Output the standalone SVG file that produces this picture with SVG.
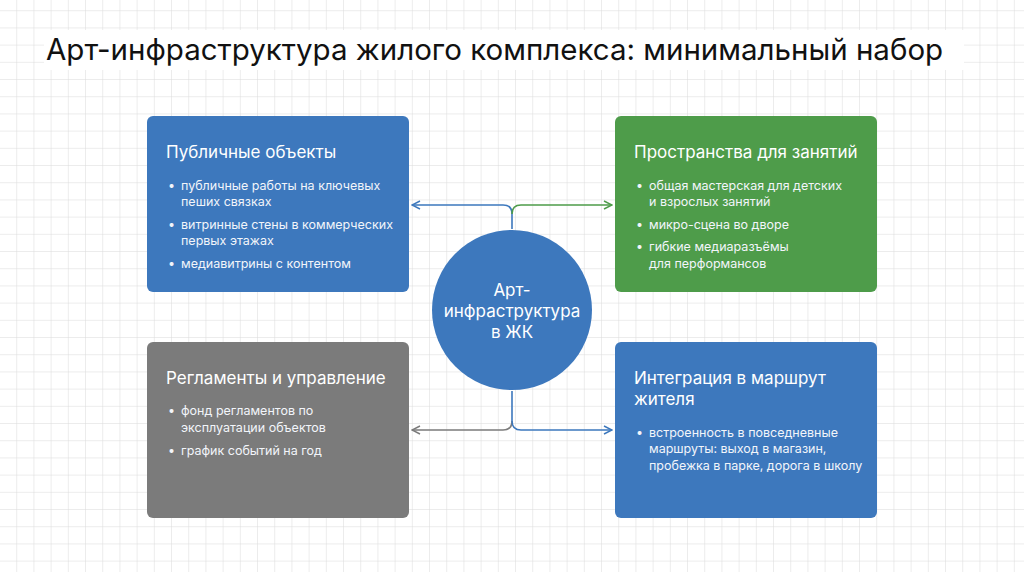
<svg xmlns="http://www.w3.org/2000/svg" width="1024" height="572" viewBox="0 0 1024 572">
<defs>
<pattern id="grid" width="17.2" height="17.2" patternUnits="userSpaceOnUse" x="0" y="-6">
<path d="M17.2 0V17.2H0" fill="none" stroke="#dadada" stroke-width="1"/>
</pattern>
<marker id="ab" viewBox="0 0 10 10" refX="9" refY="5" markerWidth="10" markerHeight="10" markerUnits="userSpaceOnUse" orient="auto"><path d="M1 1L9 5L1 9" fill="none" stroke="#3d78bd" stroke-width="1.5"/></marker>
<marker id="ag" viewBox="0 0 10 10" refX="9" refY="5" markerWidth="10" markerHeight="10" markerUnits="userSpaceOnUse" orient="auto"><path d="M1 1L9 5L1 9" fill="none" stroke="#4e9c4a" stroke-width="1.5"/></marker>
<marker id="ay" viewBox="0 0 10 10" refX="9" refY="5" markerWidth="10" markerHeight="10" markerUnits="userSpaceOnUse" orient="auto"><path d="M1 1L9 5L1 9" fill="none" stroke="#7b7b7b" stroke-width="1.5"/></marker>
</defs>
<style>
text{font-family:"Inter","Liberation Sans",sans-serif;fill:#fff}
.h{font-size:17px}
.b{font-size:12.5px;fill:#f2f5fa}
.c{stroke-width:1.6;fill:none}
</style>
<rect width="1024" height="572" fill="#fff"/>
<rect width="1024" height="572" fill="url(#grid)"/>
<rect x="44" y="30" width="920" height="40" fill="#fff"/>
<text x="46" y="60" style="font-size:29.5px;fill:#111">Арт-инфраструктура жилого комплекса: минимальный набор</text>
<g id="connectors">
<path class="c" stroke="#3d78bd" d="M512 229V214Q512 205 503 205H412" marker-end="url(#ab)"/>
<path class="c" stroke="#4e9c4a" d="M512 214Q512 205 521 205H612" marker-end="url(#ag)"/>
<path class="c" stroke="#7b7b7b" d="M512 421Q512 430 503 430H412" marker-end="url(#ay)"/>
<path class="c" stroke="#3d78bd" d="M512 391V421Q512 430 521 430H612" marker-end="url(#ab)"/>
</g>
<g id="center">
<circle cx="512" cy="310" r="80" fill="#3d78bd"/>
<text x="512" y="296" text-anchor="middle" style="font-size:17px">Арт-</text>
<text x="512" y="317" text-anchor="middle" style="font-size:17px">инфраструктура</text>
<text x="512" y="338" text-anchor="middle" style="font-size:17px">в ЖК</text>
</g>
<g id="public">
<rect x="147" y="116" width="262" height="176" rx="6" fill="#3d78bd"/>
<text class="h" x="166" y="158">Публичные объекты</text>
<text class="b" x="168" y="190">•</text><text class="b" x="181" y="190">публичные работы на ключевых</text>
<text class="b" x="181" y="206">пеших связках</text>
<text class="b" x="168" y="229">•</text><text class="b" x="181" y="229">витринные стены в коммерческих</text>
<text class="b" x="181" y="245">первых этажах</text>
<text class="b" x="168" y="268">•</text><text class="b" x="181" y="268">медиавитрины с контентом</text>
</g>
<g id="spaces">
<rect x="615" y="116" width="262" height="176" rx="6" fill="#4e9c4a"/>
<text class="h" x="634" y="158">Пространства для занятий</text>
<text class="b" x="636" y="190">•</text><text class="b" x="649" y="190">общая мастерская для детских</text>
<text class="b" x="649" y="206">и взрослых занятий</text>
<text class="b" x="636" y="229">•</text><text class="b" x="649" y="229">микро-сцена во дворе</text>
<text class="b" x="636" y="251">•</text><text class="b" x="649" y="251">гибкие медиаразъёмы</text>
<text class="b" x="649" y="268">для перформансов</text>
</g>
<g id="rules">
<rect x="147" y="342" width="262" height="176" rx="6" fill="#7b7b7b"/>
<text class="h" x="166" y="384">Регламенты и управление</text>
<text class="b" x="168" y="415">•</text><text class="b" x="181" y="415">фонд регламентов по</text>
<text class="b" x="181" y="432">эксплуатации объектов</text>
<text class="b" x="168" y="455">•</text><text class="b" x="181" y="455">график событий на год</text>
</g>
<g id="route">
<rect x="615" y="342" width="262" height="176" rx="6" fill="#3d78bd"/>
<text class="h" x="634" y="384">Интеграция в маршрут</text>
<text class="h" x="634" y="405">жителя</text>
<text class="b" x="636" y="437">•</text><text class="b" x="649" y="437">встроенность в повседневные</text>
<text class="b" x="649" y="453">маршруты: выход в магазин,</text>
<text class="b" x="649" y="470">пробежка в парке, дорога в школу</text>
</g>
</svg>
